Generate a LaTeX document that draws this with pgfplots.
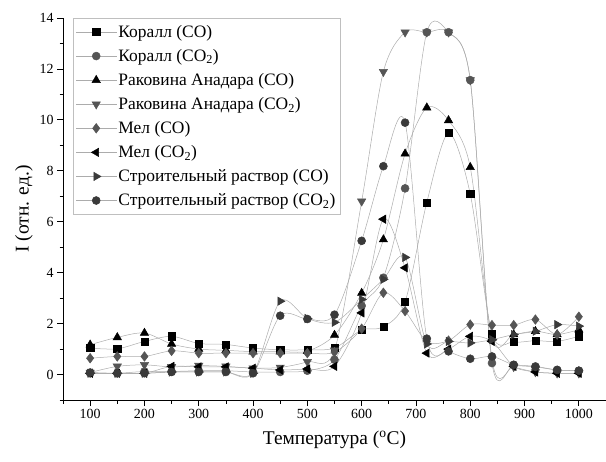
\documentclass[border=0pt]{standalone}
\usepackage{fontspec}
\setmainfont{Liberation Serif}
\usepackage{pgfplots}
\usepackage{pgfplotstable}
\pgfplotsset{compat=1.18}

% x, then 8 series in legend order
\pgfplotstableread{
x    s1   s2    s3    s4    s5   s6   s7   s8
100  1.04 0.05  1.17  0.08  0.64 0.05 0.05 0.08
150  1.01 0.05  1.46  0.32  0.71 0.05 0.05 0.05
200  1.30 0.12  1.63  0.38  0.71 0.05 0.05 0.05
250  1.50 0.12  1.20  0.30  0.93 0.32 0.10 0.10
300  1.22 0.15  1.00  0.35  0.84 0.30 0.10 0.10
350  1.18 0.15  0.95  0.32  0.84 0.30 0.10 0.10
400  1.04 0.10  0.90  0.25  0.84 0.25 0.05 0.05
450  0.97 0.10  0.90  0.28  0.84 0.18 2.88 2.31
500  0.97 0.15  0.92  0.50  0.84 0.22 2.20 2.18
550  1.04 0.58  1.55  0.95  0.88 0.32 2.05 2.35
600  1.75 2.70  3.20  6.80  1.80 2.42 2.95 5.25
640  1.87 3.80  5.30  11.89 3.21 6.10 3.74 8.18
680  2.86 7.31  8.67  13.44 2.49 4.19 4.60 9.89
720  6.76 13.44 10.48 13.44 1.30 0.84 1.20 1.41
760  9.48 13.44 9.98  13.44 1.33 1.00 1.30 0.91
800  7.09 11.56 8.14  11.56 1.96 1.50 1.24 0.62
840  1.60 0.45  1.44  0.60  1.94 1.30 1.37 0.71
880  1.28 0.38  1.57  0.30  1.94 0.32 1.57 0.38
920  1.33 0.32  1.70  0.10  2.16 0.10 1.70 0.30
960  1.30 0.18  1.57  0.05  1.57 0.05 1.96 0.18
1000 1.50 0.15  1.76  0.05  2.27 0.05 1.90 0.15
}\tpd

\definecolor{dk}{HTML}{3A3A3A}
\definecolor{md}{HTML}{555555}

\begin{document}
\begin{tikzpicture}
\begin{axis}[
    name=ax,
    scale only axis,
    width=543bp, height=382bp,
    xmin=50, xmax=1050, ymin=-1, ymax=14,
    axis x line*=bottom, axis y line*=left,
    axis line style={line width=0.9bp},
    xtick={100,200,...,1000},
    minor xtick={50,150,...,1050},
    ytick={0,2,...,14},
    minor ytick={-1,1,...,13},
    tick align=outside,
    major tick length=6bp, minor tick length=3.5bp,
    tick style={black, line width=0.8bp},
    /pgf/number format/assume math mode=true,
    /pgf/number format/1000 sep={},
    ticklabel style={font=\fontsize{14}{16}\selectfont},
    xlabel={Температура (\textsuperscript{o}C)},
    ylabel={I (отн. ед.)},
    label style={font=\fontsize{19.5}{21}\selectfont},
    xlabel style={yshift=-5bp},
    legend style={at={(0.018,1)}, anchor=north west, draw=gray!50,
        font=\fontsize{17.5}{19}\selectfont, row sep=6.5bp,
        inner xsep=3bp, inner ysep=5bp},
    legend cell align=left,
    legend image code/.code={
        \draw[mark repeat=2, mark phase=2, #1]
        plot coordinates {(0bp,0bp) (20bp,0bp) (40bp,0bp)};},
    every axis plot/.append style={smooth, line width=0.5bp, color=gray!65},
]
\addplot[mark=square*, mark size=3.6bp, mark options={draw=black, fill=black}]
    table[x=x, y=s1] {\tpd};
\addlegendentry{Коралл (CO)}
\addplot[mark=*, mark size=4bp, mark options={draw=md, fill=md}]
    table[x=x, y=s2] {\tpd};
\addlegendentry{Коралл (CO\textsubscript{2})}
\addplot[mark=triangle*, mark size=4.8bp, mark options={draw=black, fill=black}]
    table[x=x, y=s3] {\tpd};
\addlegendentry{Раковина Анадара (CO)}
\addplot[mark=triangle*, mark size=4.8bp, mark options={draw=md, fill=md, rotate=180}]
    table[x=x, y=s4] {\tpd};
\addlegendentry{Раковина Анадара (CO\textsubscript{2})}
\addplot[mark=diamond*, mark size=4.8bp, mark options={draw=md, fill=md}]
    table[x=x, y=s5] {\tpd};
\addlegendentry{Мел (CO)}
\addplot[mark=triangle*, mark size=4.8bp, mark options={draw=black, fill=black, rotate=90}]
    table[x=x, y=s6] {\tpd};
\addlegendentry{Мел (CO\textsubscript{2})}
\addplot[mark=triangle*, mark size=4.8bp, mark options={draw=dk, fill=dk, rotate=-90}]
    table[x=x, y=s7] {\tpd};
\addlegendentry{Строительный раствор (CO)}
\addplot[mark=*, mark size=4bp, mark options={draw=dk, fill=dk}]
    table[x=x, y=s8] {\tpd};
\addlegendentry{Строительный раствор (CO\textsubscript{2})}
\end{axis}
\pgfresetboundingbox
\useasboundingbox ([xshift=-63bp, yshift=-62bp]ax.south west)
    rectangle ([yshift=18bp]ax.north east);
\end{tikzpicture}
\end{document}
